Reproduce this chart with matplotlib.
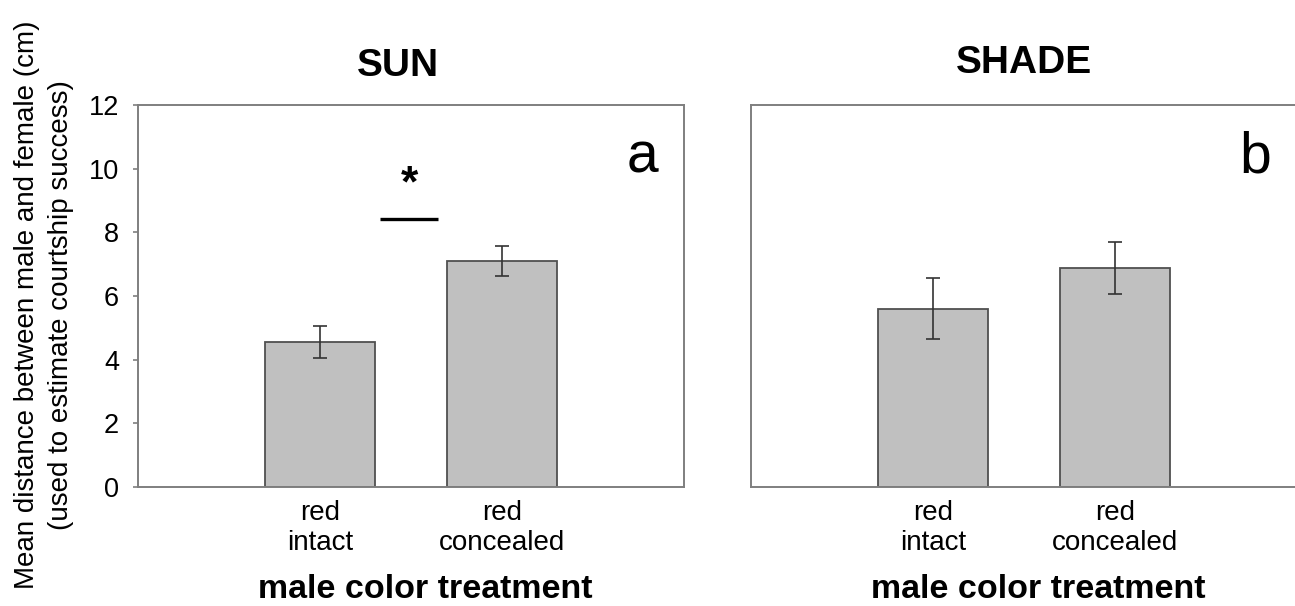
import numpy as np
import matplotlib
matplotlib.use("Agg")
import matplotlib.pyplot as plt

plt.rcParams['font.family'] = ['Liberation Sans', 'DejaVu Sans']

treatments = ["red\nintact", "red\nconcealed"]
sun_mean = [4.55, 7.10]
sun_se = [0.50, 0.48]
shade_mean = [5.60, 6.88]
shade_se = [0.95, 0.83]
panel_titles = ["SUN", "SHADE"]
panel_letters = ["a", "b"]
sig_y = 8.43
sig_span = [1.33, 1.65]

bar_face = "#c0c0c0"
bar_edge = "#505050"
spine_grey = "#7f7f7f"

fig = plt.figure(figsize=(12.95, 6.06), dpi=100)
ax1 = fig.add_axes([138 / 1295, 119 / 606, 546 / 1295, 382 / 606])
ax2 = fig.add_axes([751 / 1295, 119 / 606, 546 / 1295, 382 / 606])

x = np.arange(1, len(treatments) + 1)

for ax, means, ses, letter in [(ax1, sun_mean, sun_se, panel_letters[0]),
                               (ax2, shade_mean, shade_se, panel_letters[1])]:
    ax.bar(x, means, width=0.6, color=bar_face, edgecolor=bar_edge, linewidth=1.3, zorder=2)
    ax.errorbar(x, means, yerr=ses, fmt="none", ecolor="#333333", elinewidth=1.2,
                capsize=4.7, capthick=1.2, zorder=3)
    ax.set_xlim(0, 3)
    ax.set_ylim(0, 12)
    ax.set_xticks(x)
    ax.set_xticklabels(treatments, fontsize=20, linespacing=1.2)
    ax.tick_params(axis="x", length=0, pad=9)
    for s in ax.spines.values():
        s.set_color(spine_grey)
        s.set_linewidth(1.4)
    ax.text(2.77, 9.87, letter, fontsize=41, ha="center", va="baseline")
    ax.text(1.58, -0.29, "male color treatment", transform=ax.get_xaxis_transform(),
            fontsize=24.5, fontweight="bold", ha="center", va="baseline")

ax1.set_yticks(np.arange(0, 13, 2))
ax1.tick_params(axis="y", direction="out", length=3.6, width=1.2, color=spine_grey,
                labelsize=19.5, pad=10)
ax2.set_yticks([])

# significance bar between the two sun treatments
ax1.plot(sig_span, [sig_y, sig_y], color="black", linewidth=2.4, solid_capstyle="butt")
ax1.text(np.mean(sig_span), 9.5, "*", fontsize=32, fontweight="bold", ha="center", va="center")

fig.text(398 / 1295, 1 - 76 / 606, panel_titles[0], fontsize=28, fontweight="bold",
         ha="center", va="baseline")
fig.text(1024 / 1295, 1 - 73 / 606, panel_titles[1], fontsize=28, fontweight="bold",
         ha="center", va="baseline")

fig.text(44 / 1295, 1 - 305 / 606,
         "Mean distance between male and female (cm)\n(used to estimate courtship success)",
         rotation=90, fontsize=20, ha="center", va="center", multialignment="center",
         linespacing=1.35)

fig.savefig("out.png", dpi=100)
